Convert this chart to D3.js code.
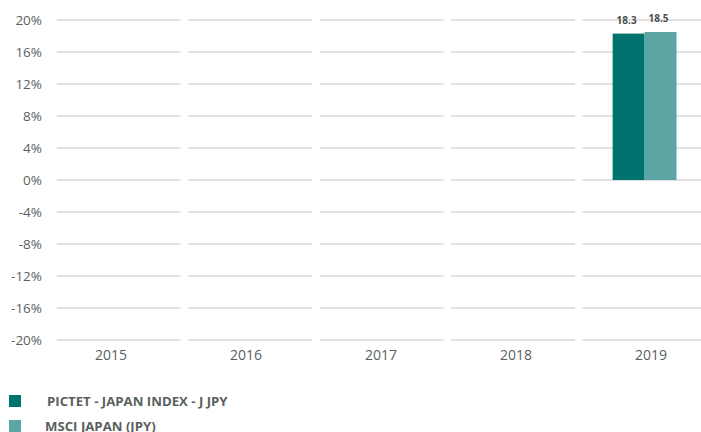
<!DOCTYPE html>
<html>
<head>
<meta charset="utf-8">
<script src="https://cdn.jsdelivr.net/npm/d3@7"></script>
<style>
  html, body { margin: 0; padding: 0; background: #fff; }
  svg { display: block; }
  text { font-family: "Open Sans", sans-serif; }
</style>
</head>
<body>
<svg id="chart" width="701" height="432"></svg>
<script>
const categories = ["2015", "2016", "2017", "2018", "2019"];
const seriesNames = ["PICTET - JAPAN INDEX - J JPY", "MSCI JAPAN (JPY)"];
const seriesFund = [null, null, null, null, 18.3];
const seriesIndex = [null, null, null, null, 18.5];
const yTicks = [20, 16, 12, 8, 4, 0, -4, -8, -12, -16, -20];
const colors = ["#00736E", "#5BA6A5"];

const svg = d3.select("#chart");

const y = d3.scaleLinear().domain([-20, 20]).range([340, 20]);
const x = d3.scaleBand().domain(categories).range([52.85, 710.35]).paddingInner(0.0586).paddingOuter(0.0293);
const xLabel = d3.scaleBand().domain(categories).range([43.5, 718.5]);
const xSub = d3.scaleBand().domain([0, 1]).range([0, x.bandwidth()]).paddingInner(0).paddingOuter(0.9375);

// gridlines per band
const grid = svg.append("g");
categories.forEach(c => {
  grid.selectAll(null).data(yTicks).enter().append("line")
    .attr("x1", x(c)).attr("x2", x(c) + x.bandwidth())
    .attr("y1", d => y(d)).attr("y2", d => y(d))
    .attr("stroke", "#e1e1e1").attr("stroke-width", 2);
});

// y axis labels
const yAxis = d3.axisLeft(y).tickValues(yTicks).tickFormat(d => d + "%").tickSize(0).tickPadding(0);
svg.append("g").attr("transform", "translate(42,0)").call(yAxis)
  .call(g => g.select(".domain").remove())
  .call(g => g.selectAll("text").attr("font-family", "Open Sans, sans-serif").attr("font-size", 13.5).attr("fill", "#5a5f60"));

// x axis labels
const xAxis = d3.axisBottom(xLabel).tickSize(0).tickPadding(0);
svg.append("g").attr("transform", "translate(0,350)").call(xAxis)
  .call(g => g.select(".domain").remove())
  .call(g => g.selectAll("text").attr("font-family", "Open Sans, sans-serif").attr("font-size", 14).attr("fill", "#5a5f60"));

// bars
const data = categories.map((c, i) => ({ c, vals: [seriesFund[i], seriesIndex[i]] }));
const bars = svg.append("g");
data.forEach(d => {
  d.vals.forEach((v, k) => {
    if (v === null) return;
    const bx = x(d.c) + xSub(k);
    bars.append("rect")
      .attr("x", bx).attr("width", xSub.bandwidth())
      .attr("y", y(Math.max(0, v))).attr("height", Math.abs(y(v) - y(0)))
      .attr("fill", colors[k]);
    bars.append("text")
      .attr("x", bx + xSub.bandwidth() / 2 - 2).attr("y", y(v) - 10)
      .attr("text-anchor", "middle")
      .attr("font-size", 10).attr("font-weight", "bold").attr("fill", "#4a4f50")
      .text(v.toFixed(1));
  });
});

// legend
const legend = svg.append("g");
seriesNames.forEach((name, k) => {
  const ly = 395 + k * 25;
  legend.append("rect").attr("x", 9).attr("y", ly).attr("width", 12).attr("height", 12).attr("fill", colors[k]);
  legend.append("text").attr("x", k === 0 ? 47 : 45).attr("y", ly + 11)
    .attr("font-family", "Roboto, sans-serif").attr("font-size", 13.2).attr("font-weight", "bold")
    .attr("fill", "#5a5f60").text(name);
});
</script>
</body>
</html>
